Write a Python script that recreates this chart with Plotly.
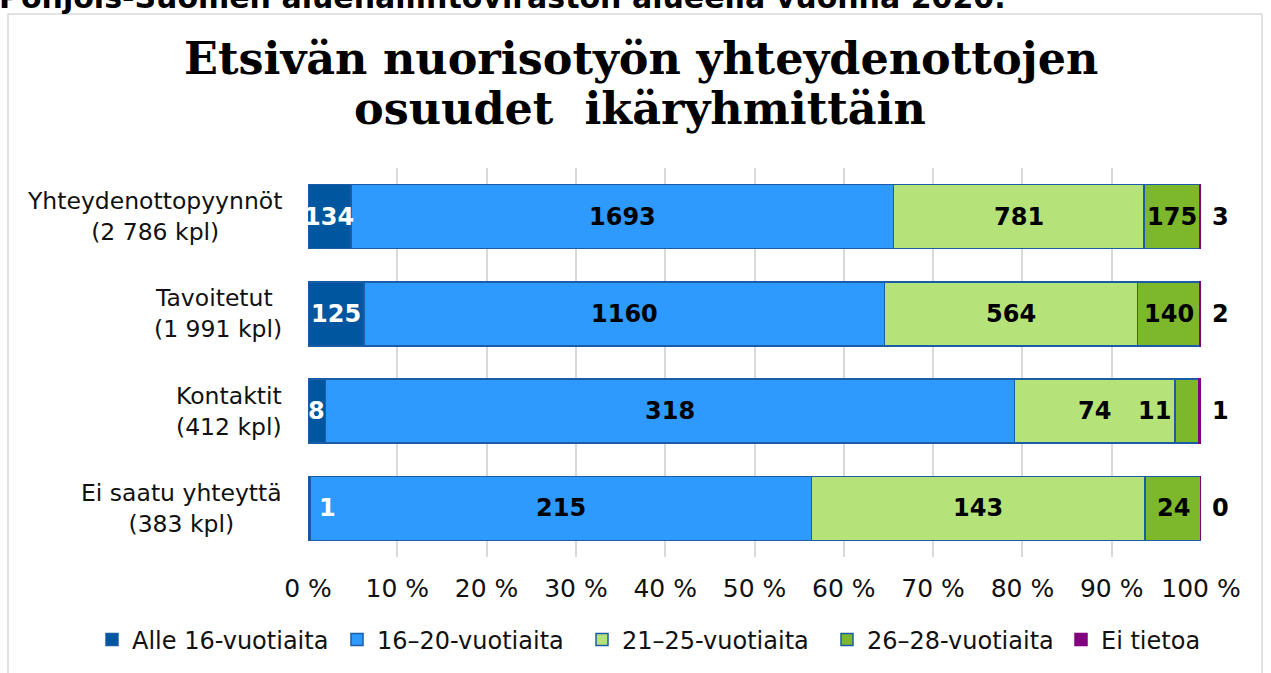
import plotly.graph_objects as go

# Data
categories = ["Yhteydenottopyynnöt", "Tavoitetut", "Kontaktit", "Ei saatu yhteyttä"]
category_labels = [
    "Yhteydenottopyynnöt<br>(2 786 kpl)",
    "Tavoitetut <br>(1 991 kpl)",
    "Kontaktit<br>(412 kpl)",
    "Ei saatu yhteyttä<br>(383 kpl)",
]
series_names = ["Alle 16-vuotiaita", "16–20-vuotiaita", "21–25-vuotiaita",
                "26–28-vuotiaita", "Ei tietoa"]
alle_16 = [134, 125, 8, 1]
v16_20 = [1693, 1160, 318, 215]
v21_25 = [781, 564, 74, 143]
v26_28 = [175, 140, 11, 24]
ei_tietoa = [3, 2, 1, 0]
tick_values = [0, 10, 20, 30, 40, 50, 60, 70, 80, 90, 100]
tick_labels = ["0 %", "10 %", "20 %", "30 %", "40 %", "50 %", "60 %", "70 %", "80 %", "90 %", "100 %"]

series = [alle_16, v16_20, v21_25, v26_28, ei_tietoa]
colors = ["#00569F", "#2E9AFE", "#B6E27A", "#7DB72B", "#800080"]
line_colors = ["#1A5DA6", "#1A5DA6", "#1A5DA6", "#1A5DA6", "#800080"]
label_colors = ["white", "black", "black", "black", "black"]
legend_ids = ["legend", "legend", "legend", "legend", "legend2"]

FONT = "DejaVu Sans, Verdana, sans-serif"
SERIF = "DejaVu Serif, Liberation Serif, serif"

# plot area in page pixels: x 308..1201, y 168..557
PL, PR, PT, PB = 308, 1201, 168, 557
PW, PH = PR - PL, PB - PT


def px(x):
    return (x - PL) / PW


def py(y):
    return (PB - y) / PH


fig = go.Figure()
for name, vals, col, lcol, lg in zip(series_names, series, colors, line_colors, legend_ids):
    fig.add_trace(go.Bar(
        y=categories, x=vals, name=name, orientation="h", legend=lg,
        marker=dict(color=col, line=dict(color=lcol, width=1.5)),
        hoverinfo="skip",
    ))

# data labels (centered in each segment, last series outside the bar)
totals = [sum(s[i] for s in series) for i in range(len(categories))]
label_shift = {(2, 3): -32, (3, 0): 18}
annotations = []
for i, cat in enumerate(categories):
    cum = 0
    for j, vals in enumerate(series):
        pct = vals[i] / totals[i] * 100
        if j == len(series) - 1:
            annotations.append(dict(x=100, y=cat, xref="x", yref="y", text=f"<b>{vals[i]}</b>",
                                    showarrow=False, xanchor="left", xshift=9,
                                    font=dict(family=FONT, size=24, color="black")))
        else:
            annotations.append(dict(x=cum + pct / 2, y=cat, xref="x", yref="y",
                                    text=f"<b>{vals[i]}</b>", showarrow=False,
                                    xshift=label_shift.get((i, j), 0),
                                    font=dict(family=FONT, size=24, color=label_colors[j])))
        cum += pct
    # category label
    annotations.append(dict(x=0, y=cat, xref="x", yref="y", text=category_labels[i],
                            showarrow=False, xanchor="right", xshift=-24, align="center",
                            font=dict(family=FONT, size=23.5, color="#111")))

# title as two lines
annotations.append(dict(x=px(641), y=py(58), xref="paper", yref="paper",
                        xanchor="center", yanchor="middle",
                        text="<b>Etsivän nuorisotyön yhteydenottojen</b>", showarrow=False,
                        font=dict(family=SERIF, size=44.5, color="black")))
annotations.append(dict(x=px(640), y=py(108), xref="paper", yref="paper",
                        xanchor="center", yanchor="middle",
                        text="<b>osuudet  ikäryhmittäin</b>", showarrow=False,
                        font=dict(family=SERIF, size=44.5, color="black")))
# clipped caption at top of page
annotations.append(dict(x=px(-3), y=py(-2), xref="paper", yref="paper",
                        xanchor="left", yanchor="middle",
                        text="<b>Pohjois-Suomen aluehallintoviraston alueella vuonna 2020.</b>",
                        showarrow=False, font=dict(family=FONT, size=30, color="black")))

legend_style = dict(orientation="h", xanchor="left", y=py(640), yanchor="middle",
                    traceorder="normal", entrywidth=200, bgcolor="rgba(0,0,0,0)",
                    font=dict(family=FONT, size=24, color="#111"))

fig.update_layout(
    width=1271, height=673,
    margin=dict(l=PL, r=1271 - PR, t=PT, b=673 - PB, autoexpand=False),
    barmode="stack", barnorm="percent", bargap=0.34,
    paper_bgcolor="white", plot_bgcolor="white",
    font=dict(family=FONT, size=23, color="#111"),
    showlegend=True,
    legend=dict(x=px(92), **legend_style),
    legend2=dict(x=px(1061), **legend_style),
    xaxis=dict(range=[0, 100], tickvals=tick_values, ticktext=tick_labels,
               showgrid=True, gridcolor="#D9D9D9", gridwidth=1.5, zeroline=False,
               showline=False, ticks="", tickfont=dict(size=25), ticklabelstandoff=14),
    yaxis=dict(autorange="reversed", showticklabels=False, showgrid=False,
               zeroline=False, showline=False, ticks=""),
    annotations=annotations,
    shapes=[dict(type="rect", xref="paper", yref="paper",
                 x0=px(8), x1=px(1262), y0=-0.6, y1=py(14),
                 line=dict(color="#D9D9D9", width=1.5), layer="below")],
)

fig.write_html("out.html", config={"displayModeBar": False},
               post_script="document.body.style.margin = '0';")
